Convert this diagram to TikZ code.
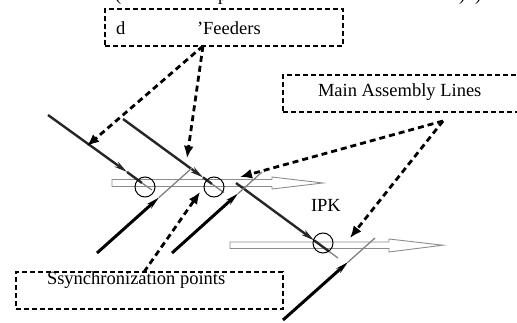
\documentclass[tikz,border=0pt]{standalone}
\usepackage{fontspec}
\setmainfont{Liberation Serif}
\usetikzlibrary{arrows.meta}
\begin{document}
\begin{tikzpicture}[x=1pt,y=-1pt,
  every node/.style={font=\fontsize{18.5}{22}\selectfont, inner sep=0pt, outer sep=0pt},
  lbl/.style={anchor=base west},
  dbox/.style={draw, line width=2.4pt, dash pattern=on 5pt off 3pt},
  hollow/.style={draw=black!45, fill=white, line width=0.9pt},
  feed/.style={line width=2.4pt, black!85},
  feedtip/.style={feed, -{Stealth[length=13pt,width=6pt]}},
  tail/.style={line width=1.3pt, black!50},
  callout/.style={line width=2.8pt, dash pattern=on 6pt off 4pt, -{Latex[length=12pt,width=10pt]}},
  syncpt/.style={circle, draw, line width=1pt, minimum size=20pt}
]
\useasboundingbox (0,0) rectangle (517,323);
\clip (0,0) rectangle (517,323);

% partially visible caption line at the top edge
\node[lbl] (capA) at (115,1) {(};
\node[lbl] (capB) at (218,1) {p};
\node[lbl] (capC) at (459,1) {)};
\node[lbl] (capD) at (475,1) {)};

% boxes
\node[dbox, minimum width=238pt, minimum height=37pt] (feedbox) at (224,27.5) {};
\node[lbl] (fd) at (116,35) {d};
\node[lbl] (ff) at (197,35) {’Feeders};

\node[dbox, minimum width=238pt, minimum height=37pt] (mainbox) at (402,93.5) {};
\node[lbl] (mt) at (318,97) {Main Assembly Lines};

\node[dbox, minimum width=267pt, minimum height=37pt] (syncbox) at (149.5,290.5) {};
\node[lbl] (st) at (47,285) {Ssynchronization points};

\node[lbl] (ipk) at (311,212) {IPK};

% main assembly lines (hollow arrows)
\draw[hollow] (112,179.5) -- (272,179.5) -- (272,177) -- (323,183) -- (272,189) -- (272,186.5) -- (112,186.5) -- cycle;
\draw[hollow] (230,242) -- (389,242) -- (389,239) -- (443,245.2) -- (389,252) -- (389,248.5) -- (230,248.5) -- cycle;

% feeder line coordinates
\coordinate (a1) at (48,115);  \coordinate (a2) at (127,172);  \coordinate (a3) at (142,183);  \coordinate (a4) at (152,190);
\coordinate (b1) at (123,119); \coordinate (b2) at (203,177.4); \coordinate (b3) at (212,184); \coordinate (b4) at (224,192.7);
\coordinate (c1) at (236,183); \coordinate (c2) at (314,240.3); \coordinate (c3) at (329,251.4); \coordinate (c4) at (338,258);
\coordinate (d1) at (97,253);  \coordinate (d2) at (159,197.5); \coordinate (d3) at (192,168);
\coordinate (e1) at (172,253); \coordinate (e2) at (238,193.6); \coordinate (e3) at (262,172);
\coordinate (f1) at (283,320); \coordinate (f2) at (348,262.1); \coordinate (f3) at (375,238);

% feeders going down-right
\draw[feedtip] (a1) -- (a2); \draw[feed] (a2) -- (a3); \draw[tail] (a3) -- (a4);
\draw[feedtip] (b1) -- (b2); \draw[feed] (b2) -- (b3); \draw[tail] (b3) -- (b4);
\draw[feedtip] (c1) -- (c2); \draw[feed] (c2) -- (c3); \draw[tail] (c3) -- (c4);
% feeders going up-right
\draw[tail] (d2) -- (d3); \draw[feedtip, black, line width=3pt] (d1) -- (d2);
\draw[tail] (e2) -- (e3); \draw[feedtip, black, line width=3pt] (e1) -- (e2);
\draw[tail] (f2) -- (f3); \draw[feedtip, black, line width=3pt] (f1) -- (f2);

% synchronization points
\node[syncpt] (s1) at (145,187) {};
\node[syncpt] (s2) at (214,187) {};
\node[syncpt] (s3) at (323,243) {};

% callouts
\coordinate (t1) at (87,146);
\coordinate (t2) at (187,158);
\coordinate (t3) at (240,177);
\coordinate (t4) at (350,238);
\coordinate (t5) at (200,192);
\draw[callout] ([xshift=-21pt]feedbox.south) -- (t1);
\draw[callout] ([xshift=-21pt]feedbox.south) -- (t2);
\draw[callout] ([xshift=41pt,yshift=-9pt]mainbox.south) -- (t3);
\draw[callout] ([xshift=41pt,yshift=-9pt]mainbox.south) -- (t4);
\draw[callout] ([xshift=-5.5pt]syncbox.north) -- (t5);
\end{tikzpicture}
\end{document}
